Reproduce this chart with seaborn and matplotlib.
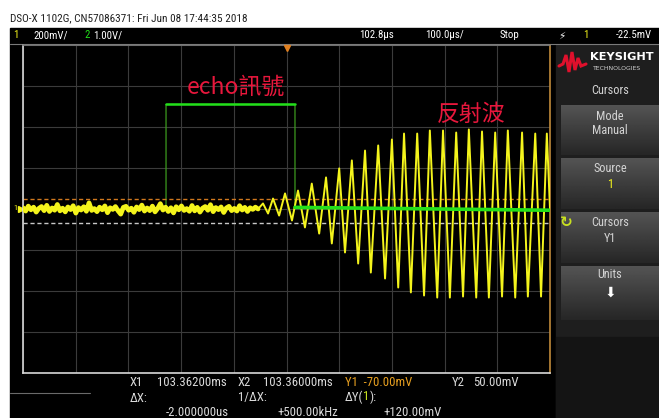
import numpy as np
import pandas as pd
import matplotlib
matplotlib.use('Agg')
import matplotlib.pyplot as plt
import seaborn as sns
from matplotlib.patches import Rectangle

# --- data ---
# time axis: us from screen centre (100 us/div), ch1 in mV (200 mV/div)

# ch1 noise before the reflected wave arrives
noise_mv = [6, -10, 14, -4, 9, -15, 3, 12, -8, 18, -12, 5, -6, 22, -9, 4, -14, 10,
            -3, 16, -20, 7, -5, 11, -11, 30, -7, 2, -13, 9, -4, 15, -18, 6, -2, 12,
            -9, -25, 8, 13, -6, 4, -16, 10, -3, 19, -10, 5, -8, 14, -14, 3, 26, -5,
            9, -12, 6, -19, 11, -4, 15, -7, 2, -11, 17, -9, 8, -15, 4, 12, -6, 21,
            -13, 7, -3, 10, -17, 5, 13, -8, 3, -10, 16, -5, 8, -12, 6, -2, 9, 0]
noise_span_us = (-500, -54)

# ch1 ringing (40 kHz burst): peak / trough vertices
osc_t = [-54, -44.6, -35, -25.6, -14, -2.8, 10.4, 21.8, 35, 48, 62, 75, 86, 100,
         111, 124, 136, 149, 160, 174, 187, 200, 212, 223, 236, 248, 261, 272, 286,
         297, 310, 322, 335, 346, 360, 371, 384, 396, 409, 420, 434, 447, 458, 472,
         483, 494, 500]
osc_mv = [0, 27, -22, 51, -32, 76, -56, 90, -90, 124, -120, 154, -168, 198, -212,
          237, -266, 285, -310, 310, -339, 339, -383, 368, -407, 368, -422, 383,
          -432, 383, -432, 373, -427, 388, -432, 378, -432, 373, -427, 383, -432,
          373, -427, 368, -427, 368, 0]

# ch2 echo pin (1 V/div)
ch2_t = [-500, -228.6, -228.6, 16.1, 16.1, 500]
ch2_v = [0.0, 0.0, 2.55, 2.55, 0.04, -0.03]
ch2_mv_per_v = 200  # 1 V/div shown on the 200 mV/div grid

# cursors
y1_mv = -70
y2_mv = 50
trigger_t = 0

W, H = 659, 418
YEL = '#f4f41c'
GRN = '#22e01a'
RED = '#e8173c'
NARROW = ['Roboto Condensed', 'DejaVu Sans Condensed', 'Liberation Sans Narrow',
          'Liberation Sans']

sns.set_style('dark')
plt.rcParams['font.family'] = NARROW

fig = plt.figure(figsize=(W / 100, H / 100), dpi=100)
fig.patch.set_facecolor('white')

# background / frame in pixel coords
bg = fig.add_axes([0, 0, 1, 1], zorder=0)
bg.set_axis_off()
bg.add_patch(Rectangle((10, 28), W - 10, H - 28, color='black', zorder=0))
bg.add_patch(Rectangle((556, 45), W - 556, H - 45, color='#1e1e1e', zorder=0))
bg.add_patch(Rectangle((556, 337), W - 556, H - 337, color='#141414', zorder=0))
bg.axhline(44, xmin=10 / W, xmax=1, color='#7a7a7a', lw=0.8)


def button(y0, y1):
    grad = np.linspace(0.33, 0.15, 60)[:, None]
    bg.imshow(grad, extent=(561, W, y1, y0), cmap='gray', vmin=0, vmax=1,
              aspect='auto', zorder=1)


for y0, y1 in [(105, 155), (158, 209), (212, 263), (266, 320)]:
    button(y0, y1)
bg.set_xlim(0, W)
bg.set_ylim(H, 0)


def chain(x, y, parts, size):
    # place coloured pieces of one label side by side
    prev = bg.text(x, y, parts[0][0], color=parts[0][1], fontsize=size,
                   va='center', ha='left')
    for s, c in parts[1:]:
        prev = bg.annotate(s, xy=(1, 0.5), xycoords=prev, color=c, fontsize=size,
                           va='center', ha='left')


# header text
bg.text(10, 18, 'DSO-X 1102G, CN57086371: Fri Jun 08 17:44:35 2018', fontsize=8.1,
        color='#202020', va='center', ha='left')
bar_y = 35.5
bs = 7.8
for x, s, c in [(13, '1', YEL), (33, '200mV/', 'white'), (84, '2', GRN),
                (93, '1.00V/', 'white'), (359, '102.8µs', 'white'),
                (425, '100.0µs/', 'white'), (500, 'Stop', 'white'),
                (583, '1', YEL), (616, '-22.5mV', 'white')]:
    bg.text(x, bar_y, s, color=c, fontsize=bs, va='center', ha='left')
bg.text(562, bar_y, '⚡', color='white', fontsize=7.5, va='center', ha='center',
        family=['DejaVu Sans'])

# Keysight logo
logo_x = [559, 563, 566, 569, 572, 575, 578, 581, 586]
logo_y = [66, 64, 55, 72, 52, 70, 58, 66, 64]
bg.plot(logo_x, logo_y, color='#e0102c', lw=2.2, solid_joinstyle='miter')
bg.text(590, 57, 'KEYSIGHT', color='white', fontsize=8.2, fontweight='bold',
        va='center', ha='left', family=['DejaVu Sans'])
bg.text(593, 69, 'TECHNOLOGIES', color='#d0d0d0', fontsize=4.4,
        va='center', ha='left', family=['DejaVu Sans'])

# softkey panel
pc = '#d4d4d4'
ps = 8.8
for y, s, c in [(91, 'Cursors', pc), (116, 'Mode', pc), (131, 'Manual', pc),
                (168, 'Source', pc), (184, '1', YEL), (222, 'Cursors', pc),
                (239, 'Y1', pc), (275, 'Units', pc)]:
    bg.text(610, y, s, color=c, fontsize=ps, ha='center', va='center')
bg.text(566, 223, '↻', color='#c8e020', fontsize=11, fontweight='bold',
        ha='center', va='center', family=['DejaVu Sans'])
bg.text(610, 293, '⬇', color='white', fontsize=10, ha='center', va='center',
        family=['DejaVu Sans'])

# cursor readout
rc = '#dadada'
rs = 9.2
bg.axhline(393, xmin=10 / W, xmax=90 / W, color='#6a6a6a', lw=0.8)
for x, y, s, c in [(130, 383, 'X1', rc), (157, 383, '103.36200ms', rc),
                   (238, 383, 'X2', rc), (263, 383, '103.36000ms', rc),
                   (130, 398, 'ΔX:', rc), (238, 398, '1/ΔX:', rc),
                   (166, 412, '-2.000000us', rc), (277, 412, '+500.00kHz', rc),
                   (345, 383, 'Y1  -70.00mV', '#e8a020'), (452, 383, 'Y2', rc),
                   (473, 383, '50.00mV', rc), (383, 412, '+120.00mV', rc)]:
    bg.text(x, y, s, color=c, fontsize=rs, va='center', ha='left')
chain(345, 397, [('ΔY(', rc), ('1', '#c8e020'), ('):', rc)], rs)

# ch1 ground marker
bg.text(15, 208.5, '1', color=YEL, fontsize=6, va='center', ha='center')
bg.plot([20.5], [208.5], marker='>', color=YEL, ms=4)

# --- scope screen ---
x0, x1, ytop, ybot = 23, 550, 45, 373
ax = fig.add_axes([x0 / W, 1 - ybot / H, (x1 - x0) / W, (ybot - ytop) / H], zorder=2)
ax.set_facecolor('black')
ax.set_xlim(-500, 500)
ax.set_ylim(-800, 800)
ax.set_xticks(np.arange(-500, 501, 100))
ax.set_yticks(np.arange(-800, 801, 200))
ax.tick_params(length=0, labelbottom=False, labelleft=False)
ax.grid(True, color='#3b3b3b', lw=0.8)
ax.set_xlabel('')
ax.set_ylabel('')
for side, col in [('left', '#d8d8d8'), ('bottom', '#d8d8d8'),
                  ('right', '#c08a3a'), ('top', '#7a7a7a')]:
    ax.spines[side].set_visible(True)
    ax.spines[side].set_color(col)
    ax.spines[side].set_linewidth(1.2)

noise_df = pd.DataFrame({'t': np.linspace(*noise_span_us, len(noise_mv)),
                         'mv': noise_mv})
osc_df = pd.DataFrame({'t': osc_t, 'mv': osc_mv})
ch2_df = pd.DataFrame({'t': ch2_t, 'mv': np.array(ch2_v) * ch2_mv_per_v})

# ch2 low level before the pulse and thin edges
sns.lineplot(data=ch2_df, x='t', y='mv', sort=False, estimator=None, ax=ax,
             color='#3c9a1e', lw=0.9, zorder=2)
sns.lineplot(data=noise_df, x='t', y='mv', sort=False, estimator=None, ax=ax,
             color=YEL, lw=3.4, zorder=3)
sns.lineplot(data=osc_df, x='t', y='mv', sort=False, estimator=None, ax=ax,
             color=YEL, lw=1.4, zorder=3)
sns.lineplot(data=ch2_df.iloc[2:4], x='t', y='mv', sort=False, estimator=None,
             ax=ax, color=GRN, lw=1.8, zorder=4)
sns.lineplot(data=ch2_df.iloc[4:6], x='t', y='mv', sort=False, estimator=None,
             ax=ax, color=GRN, lw=2.6, zorder=4)

ax.axhline(y2_mv, color='#d0781e', lw=1.0, ls=(0, (3, 2)), zorder=2.5)
ax.axhline(y1_mv, color='#c8c8c8', lw=1.0, ls=(0, (3, 2)), zorder=2.5)
ax.plot([trigger_t], [785], marker='v', color='#e08020', ms=4.5, clip_on=False,
        zorder=5)

cjk = ['Noto Sans CJK TC', 'DejaVu Sans']
ax.text(-97, 593, 'echo訊號', color=RED, fontsize=16.5, ha='center', va='center',
        family=cjk)
ax.text(350, 461, '反射波', color=RED, fontsize=16.5, ha='center', va='center',
        family=cjk)

fig.savefig('out.png', dpi=100, facecolor=fig.get_facecolor())
